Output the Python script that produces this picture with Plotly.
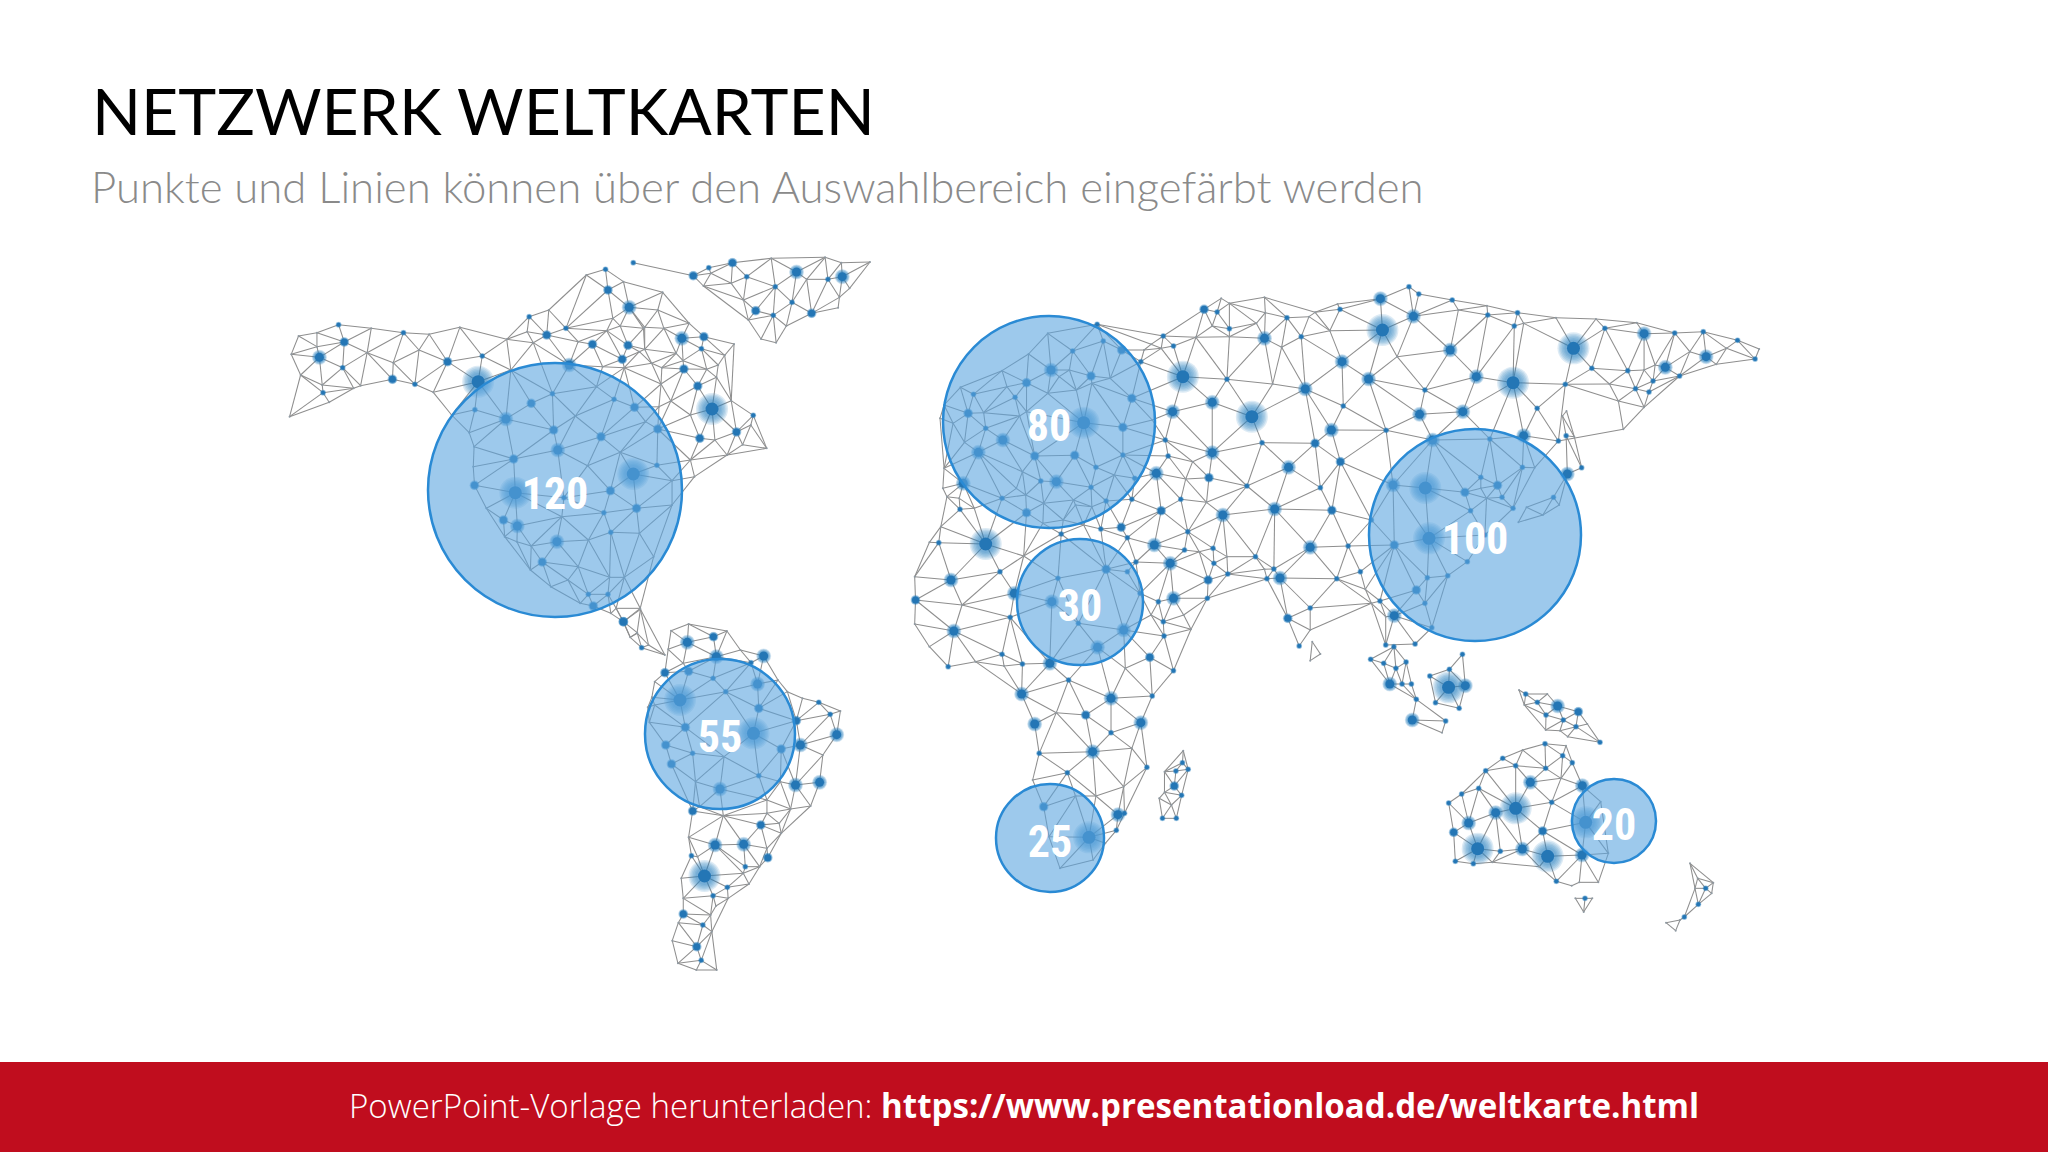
import math
import plotly.graph_objects as go

TITLE = "NETZWERK WELTKARTEN"
SUBTITLE = "Punkte und Linien können über den Auswahlbereich eingefärbt werden"
FOOTER_A = "PowerPoint-Vorlage herunterladen: "
FOOTER_B = "https://www.presentationload.de/weltkarte.html"

bubble_labels = ["120", "80", "100", "30", "55", "25", "20"]
bubble_x = [555, 1049, 1475, 1080, 720, 1050, 1614]
bubble_y = [490, 422, 535, 602, 734, 838, 821]
bubble_d = [254, 212, 212, 126, 150, 108, 84]
label_y = [498, 430, 543, 610, 741, 846, 829]

# nodes: (x, y, weight) in crop coordinates; weight 0 = bare mesh corner
north_america = [(48,530,0),(145,487,0),(130,458,1),(205,445,0),(75,405,0),(52,343,0),(121,352,3),(70,288,0),(115,278,0),(168,254,1),(182,306,2),(115,320,0),(178,383,1),(128,435,0),(238,338,0),(248,265,0),(222,437,0),(300,418,2),(355,433,1),(400,457,0),(327,278,1),(302,368,0),(390,283,0),(365,330,0),(465,262,0),(435,365,2),(520,348,1),(510,425,4),(580,298,0),(590,390,0),(645,308,0),(678,285,2),(630,275,0),(635,230,1),(683,210,0),(725,265,1),(733,375,3),(755,305,0),(790,313,2),(825,272,0),(877,316,2),(863,358,2),(815,380,0),(868,383,0),(935,370,0),(905,335,0),(918,328,0),(915,265,0),(858,258,0),(840,235,0),(880,202,3),(828,150,2),(775,105,0),(822,88,1),(866,125,0),(962,157,0),(950,210,0),(918,262,0),(1027,250,0),(965,265,0),(1009,295,3),(1063,290,2),(1137,312,0),(1114,346,0),(1057,326,1),(995,340,0),(1012,362,0),(1070,388,0),(1098,375,0),(1014,387,2),(960,383,0),(958,432,0),(982,483,0),(1048,438,2),(1094,412,0),(1130,482,0),(1083,507,4),(1184,526,1),(1178,555,0),(1143,576,2),(1158,614,0),(1217,625,0),(1053,595,2),(1120,645,0),(1090,600,0),(1030,525,0),(953,500,0),(950,567,2),(920,545,0),(893,502,2),(843,478,1),(800,440,0),(748,528,0),(692,461,1),(640,490,2),(578,537,3),(502,509,1),(445,525,0),(488,578,0),(695,570,2),(811,590,2),(858,637,0),(705,630,3),(597,657,2),(500,620,0),(498,680,0),(501,736,2),(601,758,4),(530,805,0),(572,840,2),(606,858,3),(575,890,0),(638,990,0),(605,905,0),(640,918,0),(703,905,3),(667,966,2),(755,980,0),(730,1020,0),(688,1040,0),(780,900,0),(835,877,1),(905,880,0),(940,950,0),(818,818,1),(898,805,2),(985,795,0),(985,722,0),(1040,710,0),(1030,660,0),(948,676,1),(890,702,4),(834,752,2),(720,773,1),(778,677,0),(715,830,0),(780,1063,1),(828,1063,1),(832,1012,0),(868,1012,0),(792,1098,2),(760,1090,0),(848,1105,0),(907,1105,0),(866,1145,2),(900,1180,0),(835,1120,0)]
greenland = [(890,68,1),(1075,83,1),(1037,107,2),(1133,68,2),(1228,55,0),(1360,52,0),(1400,68,0),(1470,66,0),(1402,110,3),(1420,145,0),(1395,172,0),(1392,203,0),(1327,220,2),(1265,258,0),(1240,308,0),(1203,297,0),(1172,240,0),(1160,180,0),(1130,130,0),(1168,110,1),(1238,140,1),(1290,96,3),(1315,118,0),(1367,118,1),(1279,187,1),(1233,226,1),(1190,212,2),(1080,100,0),(1062,138,0)]
south_america = [(125,92,0),(168,72,0),(165,127,3),(229,110,2),(262,93,0),(118,148,0),(155,190,0),(236,170,3),(295,150,0),(321,188,1),(352,168,3),(387,240,0),(110,218,2),(168,214,2),(85,245,0),(78,292,0),(228,235,1),(337,252,3),(259,275,1),(147,300,4),(85,315,0),(68,322,0),(340,325,2),(410,275,0),(447,295,0),(487,307,1),(515,343,1),(540,333,0),(432,362,2),(531,404,3),(72,367,0),(160,382,2),(327,400,4),(442,435,3),(497,465,0),(395,447,2),(112,435,2),(178,460,1),(255,470,0),(126,492,2),(340,527,1),(185,545,0),(245,567,3),(430,555,3),(489,547,3),(393,545,0),(467,618,0),(418,627,0),(360,600,0),(195,620,0),(178,633,2),(253,647,0),(360,640,0),(390,670,0),(345,675,2),(395,700,0),(168,712,0),(233,735,3),(303,733,3),(362,773,2),(360,745,0),(175,767,1),(190,770,0),(307,800,1),(342,800,0),(207,828,4),(150,835,0),(302,820,0),(316,852,0),(263,862,1),(228,887,1),(265,895,0),(155,895,0),(235,918,0),(155,942,2),(143,968,0),(222,945,0),(203,975,1),(225,995,0),(128,1022,0),(188,1040,2),(199,1081,1),(142,1090,0),(187,1110,0),(237,1110,0)]
central_link = [(8,65,2),(50,28,0),(25,112,0),(42,98,0),(70,135,0),(53,143,1),(110,165,0)]
europe_north_africa = [(483,133,1),(615,193,0),(362,160,0),(315,222,0),(250,272,0),(262,320,0),(310,308,2),(370,270,3),(362,340,0),(390,290,0),(423,213,1),(498,183,1),(543,210,2),(415,270,0),(468,288,2),(515,295,0),(568,355,2),(590,245,1),(598,210,0),(470,310,0),(432,330,0),(282,352,1),(310,395,0),(293,408,0),(180,343,1),(148,322,0),(108,375,0),(98,415,0),(130,430,0),(167,400,2),(205,398,0),(210,445,1),(158,487,0),(252,480,3),(192,517,3),(330,528,2),(428,526,2),(450,428,4),(546,442,2),(618,420,0),(546,525,1),(480,562,1),(383,605,3),(345,603,1),(300,575,0),(285,625,0),(155,610,3),(108,565,0),(105,625,0),(115,650,0),(145,655,0),(250,655,1),(308,645,0),(352,670,0),(430,675,0),(470,680,0),(425,660,0),(468,622,1),(505,663,1),(525,585,0),(575,595,1),(568,658,1),(310,698,2),(147,688,1),(182,685,0),(100,740,0),(72,787,0),(95,788,1),(210,792,4),(303,828,0),(350,730,0),(395,762,1),(400,720,0),(450,735,0),(492,747,1),(542,742,2),(557,773,1),(505,868,2),(557,875,1),(387,895,1),(245,875,1),(125,900,3),(36,890,0),(38,960,2),(152,975,0),(280,940,3),(372,965,3),(270,1012,1),(36,1032,0),(132,1053,3),(72,1100,0),(118,1160,1),(185,1145,0),(250,1123,1),(255,1158,0),(300,1152,1),(367,1150,3),(437,1030,1),(548,1050,3),(484,1102,3),(588,940,1),(615,1005,0),(647,1068,1),(645,1025,1),(633,965,1),(612,1132,2),(713,1048,0),(670,1172,1),(552,1165,0),(578,846,1),(623,795,3),(662,850,3),(670,955,3),(695,1005,0),(697,810,1),(733,815,0),(705,755,1),(645,168,1),(670,198,1),(725,172,0),(640,205,0),(693,290,4),(668,395,3),(650,480,1),(657,528,1),(628,580,3),(700,597,0),(688,658,1),(640,692,2),(717,545,0)]
africa_south = [(413,360,1),(298,402,3),(330,492,3),(383,458,0),(455,465,2),(517,415,3),(618,408,1),(590,488,3),(517,518,1),(341,580,1),(472,575,3),(568,565,0),(605,622,1),(410,638,1),(325,660,0),(548,680,0),(480,708,0),(430,708,0),(352,740,2),(534,764,3),(550,760,1),(530,811,1),(463,832,4),(503,850,0),(473,900,0),(392,925,0),(365,830,0)]
madagascar = [(694,572,0),(648,635,0),(692,608,1),(706,628,1),(676,633,1),(672,678,2),(648,697,0),(690,706,1),(635,715,0),(665,735,0),(643,775,1),(677,775,1)]
asia = [(10,118,2),(42,126,1),(52,85,0),(72,100,0),(158,82,0),(30,168,0),(72,176,1),(72,200,0),(160,128,0),(138,160,0),(213,143,1),(158,205,3),(200,232,0),(248,200,1),(267,140,0),(318,182,0),(282,127,0),(343,118,1),(337,102,0),(442,86,3),(512,50,1),(536,72,1),(618,90,1),(447,180,4),(523,139,3),(633,120,0),(705,135,1),(703,107,0),(778,128,1),(770,168,1),(793,160,0),(872,143,0),(970,147,0),(992,175,1),(1070,158,0),(1088,191,3),(1163,189,1),(1233,185,1),(1317,211,1),(1370,237,0),(1360,267,1),(1290,235,0),(1240,260,3),(1265,283,0),(1200,245,0),(1175,318,1),(1140,292,3),(1110,333,1),(1115,285,0),(1088,300,0),(1048,302,1),(960,295,1),(1003,342,0),(895,343,1),(915,235,4),(767,338,4),(677,320,3),(613,240,3),(483,260,0),(348,275,3),(413,327,3),(551,360,1),(258,357,3),(178,342,0),(66,328,1),(30,397,3),(127,440,4),(351,408,1),(538,433,3),(644,425,3),(322,480,3),(456,481,1),(152,518,1),(282,520,2),(30,548,3),(217,592,3),(344,575,2),(570,510,3),(710,507,1),(793,497,3),(826,415,1),(878,513,1),(820,593,0),(790,592,1),(688,622,1),(688,655,0),(729,646,2),(740,682,1),(767,715,1),(702,685,0),(649,667,2),(663,722,1),(552,654,4),(473,645,3),(295,653,1),(115,648,1),(22,623,2),(16,697,0),(56,735,3),(183,717,3),(323,721,2),(420,750,1),(476,825,2),(561,805,4),(363,828,1),(270,832,3),(136,860,1),(66,860,0),(32,835,1),(158,898,0),(181,897,1),(164,926,1),(196,924,3),(335,926,1),(393,905,1),(270,1014,1),(215,1045,2),(270,1080,0),(243,1128,1),(655,875,1),(607,917,1),(557,923,1),(530,960,2),(551,1000,1),(568,1073,1),(441,993,1),(405,958,0),(420,1000,0),(476,1037,3),(455,1040,0),(455,1125,1),(527,1122,1),(698,795,1),(34,880,1),(68,912,1),(20,930,2),(18,985,1)]
japan = [(888,438,0),(898,423,0),(917,500,0),(897,497,1),(935,593,1),(900,612,3),(866,682,1),(840,735,0),(780,757,0),(800,712,0),(880,705,0)]
kamchatka = [(1067,356,1),(1100,366,1),(1025,393,0),(1088,412,0),(1037,478,0)]
sri_lanka = [(275,1115,0),(295,1152,0),(270,1172,0)]
sumatra = [(1153,298,1),(1185,310,1),(1215,325,1),(1210,260,1),(1240,306,1),(1200,372,3),(1230,372,1),(1253,372,1),(1265,418,1),(1255,480,3),(1337,483,1),(1328,518,0)]
borneo = [(1298,348,1),(1346,328,1),(1378,283,1),(1344,382,4),(1385,377,3),(1312,428,1),(1370,445,1)]
papua = [(537,210,0),(557,222,1),(553,255,0),(592,247,1),(622,222,0),(653,258,3),(715,275,2),(618,285,1),(670,300,1),(617,330,0),(660,332,0),(683,350,0),(708,320,1),(742,312,0),(780,367,1)]
australia = [(326,549,1),(365,522,1),(416,505,1),(437,452,1),(488,415,1),(527,437,1),(548,390,0),(615,371,1),(617,445,1),(571,487,3),(663,475,0),(678,377,0),(668,407,1),(697,428,1),(727,497,3),(782,545,0),(737,607,4),(635,547,1),(527,565,4),(467,578,3),(386,609,3),(341,637,2),(413,686,4),(346,724,1),(400,731,1),(457,727,0),(481,694,1),(547,687,3),(598,740,0),(623,709,4),(608,633,2),(726,705,3),(805,700,0),(775,787,0),(718,787,0),(695,797,0),(649,784,1)]
tasmania = [(706,835,0),(757,835,0),(735,835,1),(731,876,0)]
new_zealand = [(1050,730,0),(1073,775,0),(1120,788,0),(1097,805,1),(1075,853,1),(1115,820,0),(1065,805,0),(1033,891,1),(978,908,0),(1007,932,0),(1020,900,0)]

crop_a = (270, 240, 2.45, 3)
crop_b = (620, 600, 2.45, 3)
crop_c = (900, 280, 2.45, 3)
crop_d = (1200, 270, 2.45, 3)
crop_e = (900, 560, 2.45, 3)
crop_f = (1340, 620, 3, 3)


def place(rows, crop):
    x0, y0, sx, sy = crop
    return [(x0 + a / sx, y0 + b / sy, w) for a, b, w in rows]


# mesh groups: nodes, longest mesh edge
groups = [
    (place(north_america, crop_a) + place(central_link, crop_b), 60),
    (place(greenland, crop_a), 75),
    (place(south_america, crop_b), 58),
    (place(europe_north_africa, crop_c) + place(africa_south, crop_e) + place(asia, crop_d) + place(kamchatka, crop_d), 68),
    (place(madagascar, crop_e), 30),
    (place(japan, crop_d), 40),
    (place(sri_lanka, crop_d), 25),
    (place(sumatra, crop_e), 42),
    (place(borneo, crop_e), 42),
    (place(papua, crop_f), 45),
    (place(australia, crop_f), 55),
    (place(tasmania, crop_f), 25),
    (place(new_zealand, crop_f), 40),
]


def delaunay(pts):
    big = 1e5
    all_pts = list(pts) + [(-big, -big), (big, -big), (0, big)]
    n = len(pts)
    tris = [(n, n + 1, n + 2)]

    def circ(t):
        (ax, ay), (bx, by), (cx, cy) = (all_pts[i][:2] for i in t)
        d = 2 * (ax * (by - cy) + bx * (cy - ay) + cx * (ay - by))
        if abs(d) < 1e-9:
            return 0, 0, 1e30
        a2, b2, c2 = ax * ax + ay * ay, bx * bx + by * by, cx * cx + cy * cy
        ux = (a2 * (by - cy) + b2 * (cy - ay) + c2 * (ay - by)) / d
        uy = (a2 * (cx - bx) + b2 * (ax - cx) + c2 * (bx - ax)) / d
        return ux, uy, (ax - ux) ** 2 + (ay - uy) ** 2

    cache = {tris[0]: circ(tris[0])}
    for i in range(n):
        px, py = pts[i][:2]
        bad = [t for t in tris if (px - cache[t][0]) ** 2 + (py - cache[t][1]) ** 2 < cache[t][2]]
        count = {}
        for t in bad:
            for e in ((t[0], t[1]), (t[1], t[2]), (t[2], t[0])):
                k = tuple(sorted(e))
                count[k] = count.get(k, 0) + 1
        gone = set(bad)
        tris = [t for t in tris if t not in gone]
        for (a, b), c in count.items():
            if c == 1:
                t = (a, b, i)
                cache[t] = circ(t)
                tris.append(t)
    edges = {}
    for t in tris:
        for a, b, c in ((t[0], t[1], t[2]), (t[1], t[2], t[0]), (t[2], t[0], t[1])):
            if max(a, b) < n:
                edges.setdefault(tuple(sorted((a, b))), []).append(c)
    return edges, all_pts


def sliver(p, a, b):
    ux, uy, vx, vy = a[0] - p[0], a[1] - p[1], b[0] - p[0], b[1] - p[1]
    d = math.hypot(ux, uy) * math.hypot(vx, vy)
    return d > 0 and (ux * vx + uy * vy) / d < math.cos(math.radians(138))


edge_x, edge_y = [], []
node_x, node_y, node_w = [], [], []
for pts, longest in groups:
    edges, all_pts = delaunay(pts)
    for (a, b), others in edges.items():
        if math.dist(pts[a][:2], pts[b][:2]) > longest:
            continue
        if any(sliver(all_pts[c], pts[a], pts[b]) for c in others if c < len(pts)):
            continue
        edge_x += [pts[a][0], pts[b][0], None]
        edge_y += [pts[a][1], pts[b][1], None]
    for p in pts:
        node_x.append(p[0]); node_y.append(p[1]); node_w.append(p[2])

core_size = {0: 2, 1: 4, 2: 7, 3: 9, 4: 13}
glow_size = {0: 0, 1: 6, 2: 10, 3: 15, 4: 32}
core_color = ["#8f9aa3" if w == 0 else "#2476b5" for w in node_w]

fig = go.Figure()
fig.add_trace(go.Scatter(x=edge_x, y=edge_y, mode="lines", line=dict(color="#8e8e8e", width=1.05), hoverinfo="skip"))
for share in (1.0, 0.85, 0.7, 0.55, 0.4, 0.25):
    sizes = [0 if w == 0 else core_size[w] + share * (glow_size[w] - core_size[w]) for w in node_w]
    fig.add_trace(go.Scatter(x=node_x, y=node_y, mode="markers", hoverinfo="skip",
                             marker=dict(size=sizes, color="#2a80c2", opacity=0.16, line=dict(width=0))))
fig.add_trace(go.Scatter(x=node_x, y=node_y, mode="markers", hoverinfo="skip",
                         marker=dict(size=[core_size[w] for w in node_w], color=core_color, opacity=1, line=dict(width=0))))
fig.add_trace(go.Scatter(x=bubble_x, y=bubble_y, mode="markers", hoverinfo="skip",
                         marker=dict(size=bubble_d, color="rgba(91,165,224,0.6)", opacity=1, line=dict(color="#2a8ad4", width=2.5))))
fig.add_trace(go.Scatter(x=bubble_x, y=label_y, mode="text", text=bubble_labels, textposition="middle center", hoverinfo="skip",
                         textfont=dict(family="Liberation Sans Narrow, Roboto Condensed, Liberation Sans", size=44, color="white", weight="bold")))

fig.update_layout(
    width=2048, height=1152, margin=dict(l=0, r=0, t=0, b=0), showlegend=False,
    paper_bgcolor="white", plot_bgcolor="white",
    xaxis=dict(range=[0, 2048], visible=False, fixedrange=True),
    yaxis=dict(range=[1152, 0], visible=False, fixedrange=True),
    shapes=[dict(type="rect", xref="x", yref="y", x0=0, x1=2048, y0=1062, y1=1152,
                 fillcolor="#c00d1e", line=dict(width=0), layer="above")],
    annotations=[
        dict(x=90, y=110, xref="x", yref="y", xanchor="left", yanchor="middle", showarrow=False, text=TITLE,
             font=dict(family="Lato", size=64.3, color="#000000")),
        dict(x=89, y=186, xref="x", yref="y", xanchor="left", yanchor="middle", showarrow=False, text=SUBTITLE,
             font=dict(family="Lato", size=43.7, color="#8a8a8a", weight=300)),
        dict(x=1024, y=1105, xref="x", yref="y", xanchor="center", yanchor="middle", showarrow=False,
             text=f"<span style='font-weight:300'>{FOOTER_A}</span><b>{FOOTER_B}</b>",
             font=dict(family="Open Sans", size=33.1, color="white")),
    ],
)
fig.write_html("out.html", config=dict(displayModeBar=False), post_script="document.body.style.margin='0';")
